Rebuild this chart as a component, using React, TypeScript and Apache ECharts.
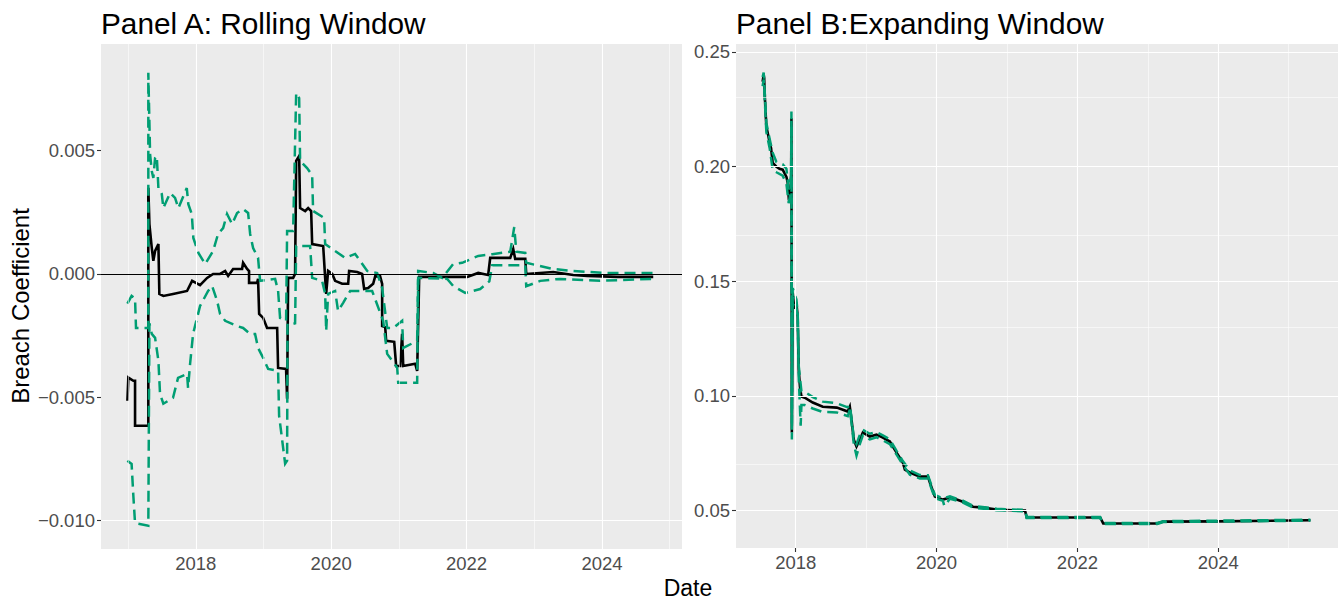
import React, { useEffect, useRef } from "react";
import * as echarts from "echarts";

// ---------- Panel A: rolling window (year, coefficient) ----------
const rollingEstimate: [number, number][] = [
  [2016.990, -0.00514], [2017.004, -0.0042], [2017.078, -0.00433], [2017.103, -0.00433],
  [2017.103, -0.00615], [2017.299, -0.00615], [2017.299, 0.00349], [2017.315, 0.00202],
  [2017.350, 0.00106], [2017.373, 0.00053], [2017.399, 0.00093], [2017.448, 0.00121],
  [2017.462, -0.00081], [2017.521, -0.00089], [2017.664, -0.00081], [2017.871, -0.00069],
  [2017.946, -0.00028], [2018.063, -0.00045], [2018.167, -0.00016], [2018.256, 0.0],
  [2018.359, 0.0], [2018.434, 0.00012], [2018.478, -0.00008], [2018.551, 0.0002],
  [2018.684, 0.0002], [2018.699, 0.00045], [2018.758, 0.0002], [2018.787, 0.00012],
  [2018.787, -0.00036], [2018.906, -0.00036], [2018.920, -0.0002], [2018.936, -0.00162],
  [2018.995, -0.00178], [2019.053, -0.00219], [2019.202, -0.00219], [2019.216, -0.00381],
  [2019.334, -0.00385], [2019.349, -0.00506], [2019.364, -0.00016], [2019.438, -0.00016],
  [2019.467, 0.0], [2019.483, 0.00458], [2019.527, 0.00478], [2019.541, 0.00267],
  [2019.616, 0.00255], [2019.660, 0.00267], [2019.704, 0.00255], [2019.719, 0.00121],
  [2019.882, 0.00113], [2019.911, -0.00016], [2019.926, -0.00081], [2019.955, 0.00012],
  [2020.015, 0.0], [2020.058, -0.00028], [2020.162, -0.0004], [2020.251, -0.0004],
  [2020.265, 0.00012], [2020.384, 0.00008], [2020.457, 0.0], [2020.487, -0.00061],
  [2020.546, -0.00057], [2020.620, -0.0004], [2020.650, -0.0001], [2020.723, -0.0001],
  [2020.753, -0.0004], [2020.753, -0.00211], [2020.798, -0.00215], [2020.812, -0.00271],
  [2020.931, -0.00275], [2020.960, -0.00373], [2021.019, -0.00373], [2021.048, -0.00243],
  [2021.064, -0.00373], [2021.241, -0.00364], [2021.270, -0.00393], [2021.300, -0.00012],
  [2021.566, -0.00012], [2022.010, -0.00012], [2022.172, 0.00004], [2022.319, -0.00004],
  [2022.349, 0.00065], [2022.645, 0.00065], [2022.689, 0.00101], [2022.718, 0.00061],
  [2022.867, 0.00061], [2022.881, 0.0], [2023.280, 0.00008], [2023.575, -0.00004],
  [2023.783, -0.00008], [2024.226, -0.00012], [2024.757, -0.00012],
];

const rollingUpper: [number, number][] = [
  [2016.990, -0.0012], [2017.052, -0.00089], [2017.103, -0.001], [2017.117, -0.00219],
  [2017.299, -0.00219], [2017.299, 0.00815], [2017.325, 0.00486], [2017.350, 0.00417],
  [2017.373, 0.00389], [2017.399, 0.0047], [2017.424, 0.00478], [2017.448, 0.00348],
  [2017.498, 0.00324], [2017.521, 0.00267], [2017.621, 0.00328], [2017.694, 0.00308],
  [2017.743, 0.00267], [2017.867, 0.00348], [2017.890, 0.00283], [2017.941, 0.00243],
  [2017.964, 0.00146], [2018.039, 0.00085], [2018.138, 0.0004], [2018.256, 0.00093],
  [2018.329, 0.00162], [2018.404, 0.00186], [2018.462, 0.00243], [2018.537, 0.00202],
  [2018.610, 0.00247], [2018.699, 0.00263], [2018.773, 0.00247], [2018.803, 0.00162],
  [2018.847, 0.00105], [2018.920, 0.00065], [2018.950, -0.00028], [2019.172, -0.0002],
  [2019.216, -0.00069], [2019.245, -0.00178], [2019.334, -0.0019], [2019.349, 0.00174],
  [2019.438, 0.00174], [2019.483, 0.00733], [2019.527, 0.00713], [2019.541, 0.00458],
  [2019.644, 0.00429], [2019.719, 0.004], [2019.733, 0.00255], [2019.896, 0.00227],
  [2019.911, 0.00121], [2020.058, 0.00093], [2020.207, 0.00065], [2020.354, 0.00081],
  [2020.428, 0.00053], [2020.532, 0.00012], [2020.679, 0.00004], [2020.753, -0.00057],
  [2020.827, -0.00219], [2020.915, -0.00219], [2021.048, -0.0019], [2021.064, -0.003],
  [2021.270, -0.00271], [2021.285, 0.00012], [2021.507, 0.00004], [2021.639, -0.00016],
  [2021.802, 0.0004], [2021.935, 0.00045], [2022.172, 0.00073], [2022.379, 0.0008],
  [2022.645, 0.0009], [2022.704, 0.0019], [2022.735, 0.0009], [2022.867, 0.00085],
  [2022.881, 0.00045], [2023.280, 0.0002], [2023.575, 0.00012], [2024.078, 0.00004],
  [2024.757, 0.00004],
];

const rollingLower: [number, number][] = [
  [2016.990, -0.00757], [2017.052, -0.0077], [2017.078, -0.009], [2017.103, -0.0101],
  [2017.299, -0.0102], [2017.315, -0.002], [2017.350, -0.00243], [2017.399, -0.00259],
  [2017.448, -0.00352], [2017.472, -0.00486], [2017.521, -0.00526], [2017.664, -0.00502],
  [2017.738, -0.00421], [2017.871, -0.00405], [2017.886, -0.00462], [2017.916, -0.00364],
  [2017.960, -0.00243], [2018.063, -0.0013], [2018.182, -0.00069], [2018.241, -0.00049],
  [2018.315, -0.00109], [2018.359, -0.00162], [2018.434, -0.0019], [2018.610, -0.00211],
  [2018.699, -0.00219], [2018.803, -0.00243], [2018.876, -0.00243], [2018.920, -0.003],
  [2018.995, -0.0034], [2019.069, -0.00385], [2019.216, -0.00393], [2019.231, -0.00575],
  [2019.320, -0.00769], [2019.349, -0.00757], [2019.355, -0.00202], [2019.438, -0.00202],
  [2019.467, -0.002], [2019.483, 0.00113], [2019.689, 0.00113], [2019.719, -0.00016],
  [2019.866, -0.00028], [2019.911, -0.0008], [2019.926, -0.00231], [2019.955, -0.00081],
  [2020.058, -0.00069], [2020.102, -0.0015], [2020.177, -0.00117], [2020.280, -0.00069],
  [2020.605, -0.00069], [2020.768, -0.0019], [2020.827, -0.00324], [2020.975, -0.0038],
  [2020.990, -0.00441], [2021.270, -0.00441], [2021.285, -0.00016], [2021.714, -0.0002],
  [2021.802, -0.00049], [2021.980, -0.00077], [2022.201, -0.00061], [2022.336, -0.0003],
  [2022.379, 0.00035], [2022.867, 0.00035], [2022.881, -0.0005], [2023.088, -0.00028],
  [2023.379, -0.0002], [2023.972, -0.00028], [2024.718, -0.0002], [2024.757, -0.0002],
];

// ---------- Panel B: expanding window (year, coefficient) ----------
const expandingEstimate: [number, number][] = [
  [2017.530, 0.237], [2017.545, 0.24], [2017.552, 0.2385], [2017.559, 0.2321],
  [2017.570, 0.225], [2017.583, 0.2173], [2017.600, 0.215], [2017.630, 0.2104],
  [2017.650, 0.208], [2017.673, 0.2016], [2017.726, 0.1999], [2017.770, 0.199],
  [2017.815, 0.1986], [2017.868, 0.1955], [2017.886, 0.1929], [2017.900, 0.1868],
  [2017.925, 0.188], [2017.935, 0.195], [2017.939, 0.221], [2017.945, 0.084],
  [2017.957, 0.145], [2017.980, 0.138], [2018.010, 0.1406], [2018.028, 0.1345],
  [2018.043, 0.1114], [2018.060, 0.104], [2018.081, 0.0997], [2018.128, 0.0992],
  [2018.242, 0.0971], [2018.384, 0.0953], [2018.583, 0.0949], [2018.739, 0.0932],
  [2018.768, 0.0953], [2018.792, 0.0897], [2018.825, 0.0809], [2018.863, 0.0779],
  [2018.910, 0.0809], [2018.953, 0.084], [2019.052, 0.0823], [2019.147, 0.0831],
  [2019.237, 0.0818], [2019.337, 0.0801], [2019.379, 0.0779], [2019.432, 0.0753],
  [2019.521, 0.0709], [2019.550, 0.0679], [2019.621, 0.0666], [2019.763, 0.0648],
  [2019.877, 0.0648], [2019.905, 0.0622], [2019.976, 0.0561], [2020.090, 0.0548],
  [2020.190, 0.0557], [2020.285, 0.0548], [2020.374, 0.0539], [2020.517, 0.0517],
  [2020.659, 0.0513], [2020.854, 0.0505], [2021.185, 0.05], [2021.256, 0.05],
  [2021.280, 0.047], [2022.323, 0.047], [2022.366, 0.0444], [2023.133, 0.0444],
  [2023.219, 0.0452], [2023.987, 0.0453], [2025.308, 0.0458],
];

const expandingUpper: [number, number][] = [
  [2017.530, 0.239], [2017.545, 0.241], [2017.559, 0.233], [2017.583, 0.219],
  [2017.630, 0.212], [2017.673, 0.206], [2017.726, 0.202], [2017.815, 0.201],
  [2017.868, 0.199], [2017.900, 0.19], [2017.935, 0.196], [2017.939, 0.224],
  [2017.945, 0.088], [2017.957, 0.147], [2018.010, 0.142], [2018.028, 0.136],
  [2018.043, 0.113], [2018.081, 0.102], [2018.128, 0.1018], [2018.242, 0.0995],
  [2018.384, 0.0975], [2018.583, 0.0968], [2018.739, 0.095], [2018.768, 0.096],
  [2018.792, 0.0905], [2018.825, 0.0815], [2018.863, 0.079], [2018.910, 0.083],
  [2018.953, 0.0852], [2019.052, 0.0835], [2019.147, 0.0842], [2019.237, 0.0828],
  [2019.337, 0.081], [2019.432, 0.076], [2019.521, 0.0716], [2019.621, 0.0675],
  [2019.763, 0.0655], [2019.877, 0.0654], [2019.976, 0.0568], [2020.090, 0.0553],
  [2020.190, 0.0562], [2020.374, 0.0543], [2020.517, 0.0521], [2020.854, 0.0508],
  [2021.256, 0.0503], [2021.280, 0.0472], [2022.323, 0.0472], [2022.366, 0.0446],
  [2023.133, 0.0446], [2023.219, 0.0454], [2025.308, 0.046],
];

const expandingLower: [number, number][] = [
  [2017.530, 0.235], [2017.545, 0.238], [2017.559, 0.23], [2017.583, 0.215],
  [2017.630, 0.208], [2017.673, 0.1985], [2017.726, 0.1975], [2017.815, 0.196],
  [2017.868, 0.1925], [2017.900, 0.184], [2017.935, 0.19], [2017.939, 0.218],
  [2017.945, 0.081], [2017.957, 0.143], [2018.010, 0.139], [2018.028, 0.133],
  [2018.043, 0.108], [2018.070, 0.087], [2018.081, 0.096], [2018.128, 0.096],
  [2018.242, 0.0945], [2018.384, 0.093], [2018.583, 0.0928], [2018.739, 0.0912],
  [2018.768, 0.094], [2018.792, 0.0885], [2018.825, 0.079], [2018.863, 0.074],
  [2018.910, 0.079], [2018.953, 0.0828], [2019.052, 0.081], [2019.147, 0.082],
  [2019.237, 0.0806], [2019.337, 0.079], [2019.432, 0.0744], [2019.521, 0.07],
  [2019.621, 0.0656], [2019.763, 0.064], [2019.877, 0.064], [2019.976, 0.0554],
  [2020.090, 0.0543], [2020.110, 0.052], [2020.190, 0.0552], [2020.374, 0.0535],
  [2020.517, 0.0513], [2020.854, 0.0502], [2021.256, 0.0497], [2021.280, 0.0468],
  [2022.323, 0.0468], [2022.366, 0.0442], [2023.133, 0.0442], [2023.219, 0.045],
  [2025.308, 0.0456],
];

// ---------- ticks / gridlines ----------
const rollingXTicks = [2018, 2020, 2022, 2024];
const rollingXMinor = [2017, 2019, 2021, 2023, 2025];
const rollingYTicks = [-0.01, -0.005, 0, 0.005];
const rollingYMinor = [-0.0075, -0.0025, 0.0025, 0.0075];
const expandingXTicks = [2018, 2020, 2022, 2024];
const expandingXMinor = [2019, 2021, 2023, 2025];
const expandingYTicks = [0.05, 0.1, 0.15, 0.2, 0.25];
const expandingYMinor = [0.075, 0.125, 0.175, 0.225];

const FONT = '"Liberation Sans", Arial, Helvetica, sans-serif';
const GREEN = "#009E73";
const TICK_SIZE = 18.5;

function gridLines(xMajor: number[], xMinor: number[], yMajor: number[], yMinor: number[]) {
  const major = { color: "#FFFFFF", width: 1.1, type: "solid" };
  const minor = { color: "#FFFFFF", width: 0.55, type: "solid" };
  return [
    ...xMinor.map((v) => ({ xAxis: v, lineStyle: minor })),
    ...yMinor.map((v) => ({ yAxis: v, lineStyle: minor })),
    ...xMajor.map((v) => ({ xAxis: v, lineStyle: major })),
    ...yMajor.map((v) => ({ yAxis: v, lineStyle: major })),
  ];
}

function fmtSigned(v: number, d: number) {
  const r = Math.round(v * 10000) / 10000;
  if (Math.abs(r) < 1e-9) return (0).toFixed(d);
  return (r < 0 ? "\u2212" : "") + Math.abs(r).toFixed(d);
}

function xAxisDef(idx: number, min: number, max: number, ticks: number[]) {
  return {
    type: "value",
    gridIndex: idx,
    min,
    max,
    axisLine: { show: false },
    splitLine: { show: false },
    axisTick: { show: true, customValues: ticks, length: 4, lineStyle: { color: "#333333", width: 1.1 } },
    axisLabel: {
      customValues: ticks,
      color: "#4D4D4D",
      fontSize: TICK_SIZE,
      fontFamily: FONT,
      margin: 5,
      formatter: (v: number) => String(Math.round(v)),
    },
  };
}

function yAxisDef(idx: number, min: number, max: number, ticks: number[], d: number) {
  return {
    type: "value",
    gridIndex: idx,
    min,
    max,
    axisLine: { show: false },
    splitLine: { show: false },
    axisTick: { show: true, customValues: ticks, length: 4, lineStyle: { color: "#333333", width: 1.1 } },
    axisLabel: {
      customValues: ticks,
      color: "#4D4D4D",
      fontSize: TICK_SIZE,
      fontFamily: FONT,
      margin: 6,
      formatter: (v: number) => fmtSigned(v, d),
    },
  };
}

function lineSeries(idx: number, data: [number, number][], color: string, dashed: boolean) {
  return {
    type: "line",
    xAxisIndex: idx,
    yAxisIndex: idx,
    data,
    symbol: "none",
    showSymbol: false,
    silent: true,
    z: dashed ? 4 : 3,
    lineStyle: { color, width: dashed ? 2.5 : 2.6, type: dashed ? [11, 6] : "solid", cap: "butt", join: "miter" },
  };
}

function gridSeries(idx: number, lines: any[]) {
  return {
    type: "line",
    xAxisIndex: idx,
    yAxisIndex: idx,
    data: [],
    symbol: "none",
    silent: true,
    z: 1,
    markLine: { silent: true, symbol: ["none", "none"], label: { show: false }, animation: false, data: lines },
  };
}

export default function App() {
  const ref = useRef<HTMLDivElement>(null);

  useEffect(() => {
    if (!ref.current) return;
    const chart = echarts.init(ref.current, null, { renderer: "svg" });
    const option: any = {
      animation: false,
      backgroundColor: "#FFFFFF",
      grid: [
        { left: 101, top: 44, width: 581, height: 505, show: true, backgroundColor: "#EBEBEB", borderWidth: 0 },
        { left: 736, top: 44, width: 602, height: 504, show: true, backgroundColor: "#EBEBEB", borderWidth: 0 },
      ],
      xAxis: [
        xAxisDef(0, 2016.6, 2025.182, rollingXTicks),
        xAxisDef(1, 2017.152, 2025.7, expandingXTicks),
      ],
      yAxis: [
        yAxisDef(0, -0.011147, 0.009319, rollingYTicks, 3),
        yAxisDef(1, 0.0337, 0.2534, expandingYTicks, 2),
      ],
      graphic: [
        {
          type: "text", x: 101, y: 23,
          style: { text: "Panel A: Rolling Window", fill: "#000000", font: `29.8px ${FONT}`, textAlign: "left", textVerticalAlign: "middle", align: "left", verticalAlign: "middle" },
        },
        {
          type: "text", x: 736, y: 23,
          style: { text: "Panel B:Expanding Window", fill: "#000000", font: `29.8px ${FONT}`, textAlign: "left", textVerticalAlign: "middle", align: "left", verticalAlign: "middle" },
        },
        {
          type: "text", x: 20, y: 306, rotation: Math.PI / 2,
          style: { text: "Breach Coefficient", fill: "#000000", font: `24px ${FONT}`, textAlign: "center", textVerticalAlign: "middle", align: "center", verticalAlign: "middle" },
        },
        {
          type: "text", x: 688, y: 588,
          style: { text: "Date", fill: "#000000", font: `23px ${FONT}`, textAlign: "center", textVerticalAlign: "middle", align: "center", verticalAlign: "middle" },
        },
      ],
      series: [
        gridSeries(0, gridLines(rollingXTicks, rollingXMinor, rollingYTicks, rollingYMinor)),
        gridSeries(1, gridLines(expandingXTicks, expandingXMinor, expandingYTicks, expandingYMinor)),
        lineSeries(0, rollingEstimate, "#000000", false),
        lineSeries(0, rollingUpper, GREEN, true),
        lineSeries(0, rollingLower, GREEN, true),
        {
          type: "line", xAxisIndex: 0, yAxisIndex: 0, data: [], symbol: "none", silent: true, z: 5,
          markLine: { silent: true, symbol: ["none", "none"], label: { show: false }, animation: false,
            data: [{ yAxis: 0, lineStyle: { color: "#000000", width: 1, type: "solid" } }] },
        },
        lineSeries(1, expandingEstimate, "#000000", false),
        lineSeries(1, expandingUpper, GREEN, true),
        lineSeries(1, expandingLower, GREEN, true),
      ],
    };
    chart.setOption(option);
    return () => chart.dispose();
  }, []);

  return (
    <div
      ref={ref}
      style={{ position: "absolute", left: 0, top: 0, width: 1344, height: 602 }}
    />
  );
}
